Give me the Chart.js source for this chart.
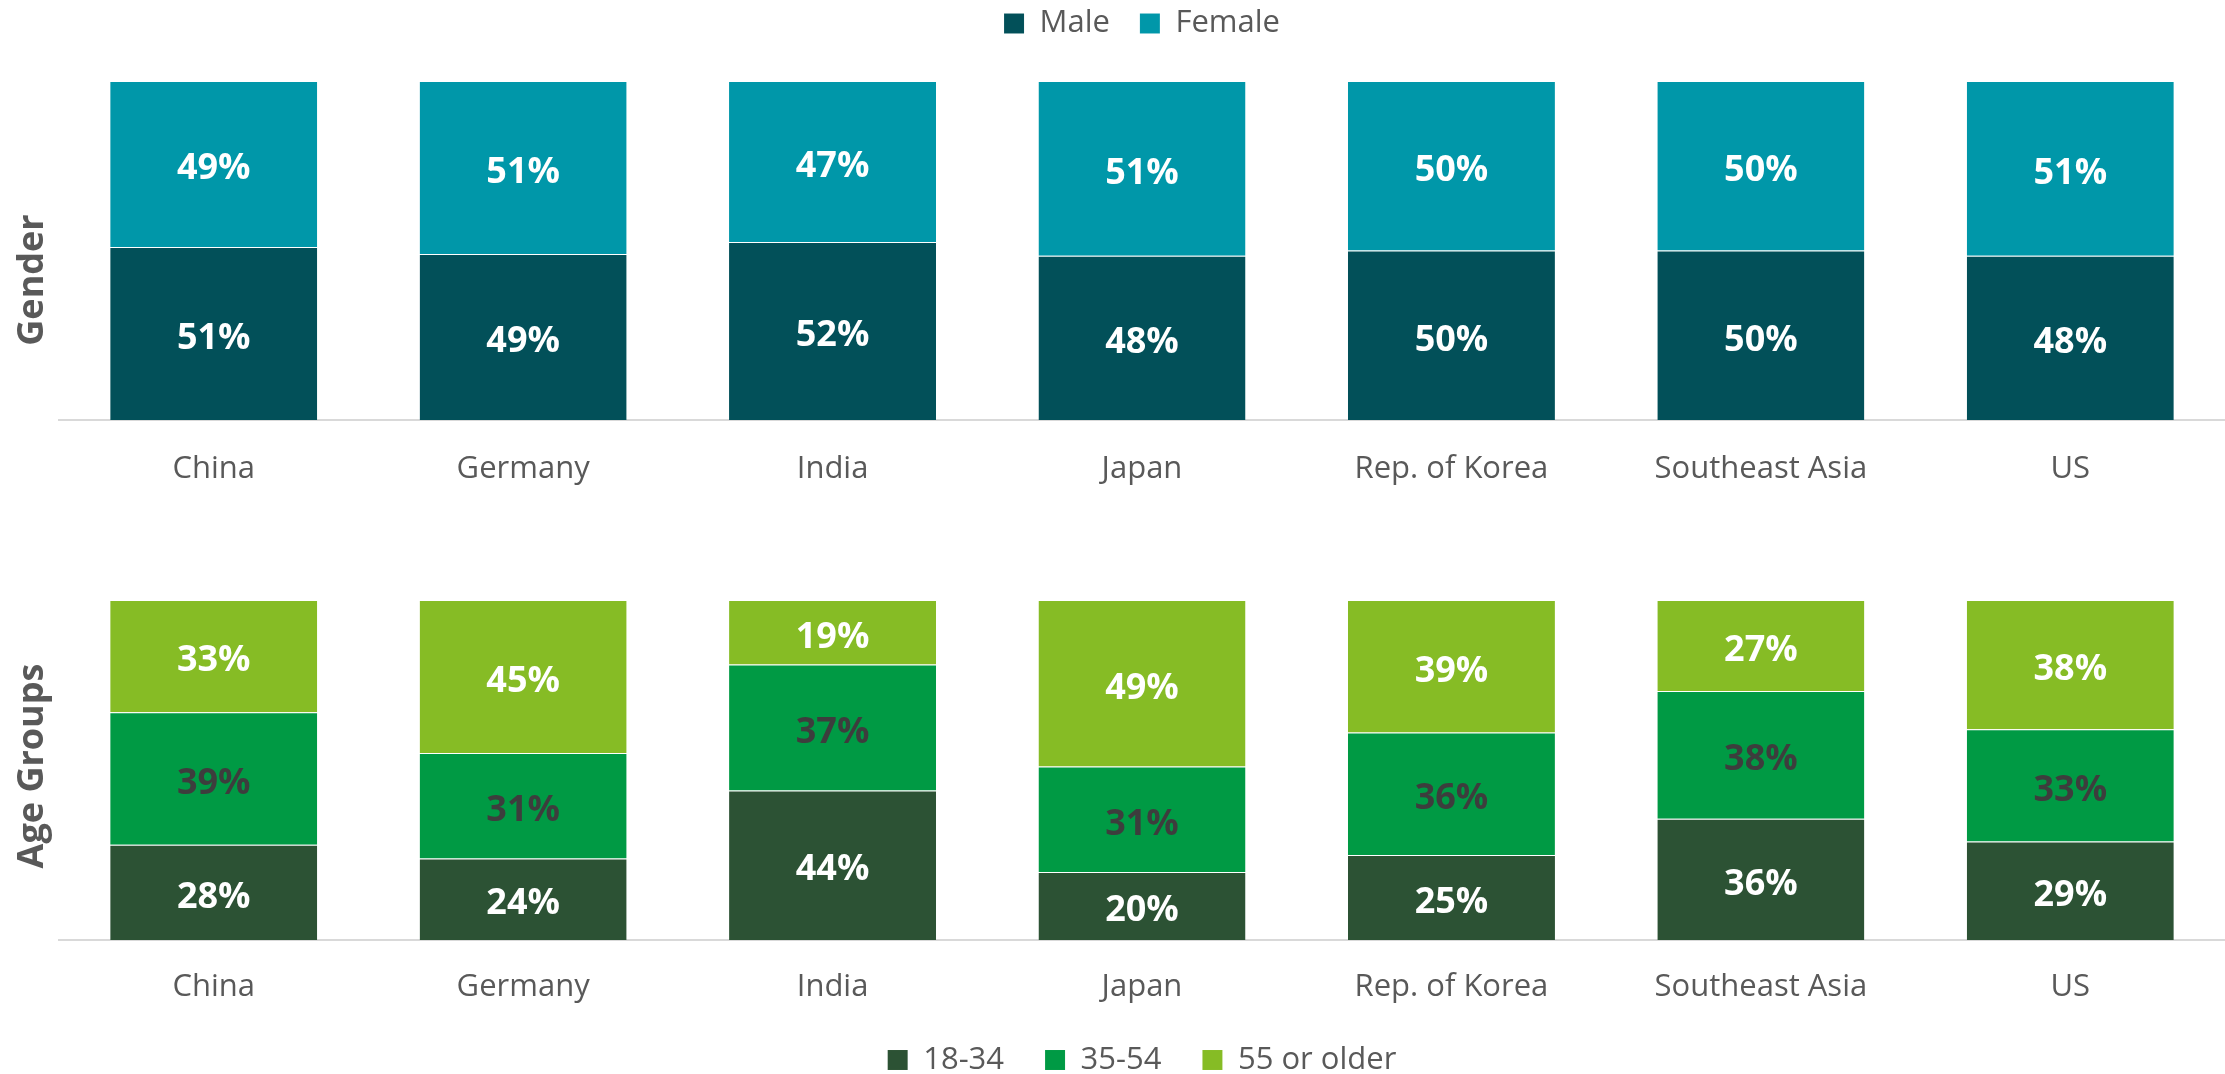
<!DOCTYPE html>
<html>
<head>
<meta charset="utf-8">
<script src="https://cdn.jsdelivr.net/npm/chart.js@4.4.1/dist/chart.umd.min.js"></script>
<style>
html,body{margin:0;padding:0;background:#ffffff;overflow:hidden}
#wrap{position:relative;width:2225px;height:1074px;background:#fff}
canvas{position:absolute;left:0}
#cA{top:0}
#cB{top:510px}
</style>
</head>
<body>
<div id="wrap">
<canvas id="cA" width="2225" height="510" style="width:2225px;height:510px"></canvas>
<canvas id="cB" width="2225" height="564" style="width:2225px;height:564px"></canvas>
</div>
<script>
// ---- data ----
const categories = ['China', 'Germany', 'India', 'Japan', 'Rep. of Korea', 'Southeast Asia', 'US'];
const male   = [51, 49, 52, 48, 50, 50, 48];
const female = [49, 51, 47, 51, 50, 50, 51];
const age18to34 = [28, 24, 44, 20, 25, 36, 29];
const age35to54 = [39, 31, 37, 31, 36, 38, 33];
const age55plus = [33, 45, 19, 49, 39, 27, 38];
const genderSeriesNames = ['Male', 'Female'];
const ageSeriesNames = ['18-34', '35-54', '55 or older'];
const panelTitles = ['Gender', 'Age Groups'];

// 100% stacked: each bar is scaled to its own total
function share(series, group) {
  return series.map((v, i) => {
    const total = group.reduce((s, g) => s + g[i], 0);
    return v / total * 100;
  });
}

const FONT = '"Open Sans", "Noto Sans", sans-serif';
const GREY = '#595959';

const valueLabels = {
  id: 'valueLabels',
  afterDatasetsDraw(chart) {
    const ctx = chart.ctx;
    ctx.save();
    ctx.font = 'bold 36px ' + FONT;
    ctx.textAlign = 'center';
    ctx.textBaseline = 'middle';
    chart.data.datasets.forEach((ds, di) => {
      const meta = chart.getDatasetMeta(di);
      ctx.fillStyle = ds.labelColor;
      meta.data.forEach((el, i) => {
        const y = (el.y + el.base) / 2 + 5;
        ctx.fillText(ds.raw[i] + '%', el.x, y);
      });
    });
    ctx.restore();
  }
};

const sideTitle = {
  id: 'sideTitle',
  afterDraw(chart, args, opts) {
    if (!opts || !opts.text) return;
    const ctx = chart.ctx;
    ctx.save();
    ctx.translate(opts.x, opts.y);
    ctx.rotate(-Math.PI / 2);
    ctx.font = 'bold 36px ' + FONT;
    ctx.fillStyle = GREY;
    ctx.textAlign = 'center';
    ctx.textBaseline = 'alphabetic';
    ctx.fillText(opts.text, 0, 0);
    ctx.restore();
  }
};

function baseOptions() {
  return {
    responsive: false,
    animation: false,
    devicePixelRatio: 1,
    events: [],
    datasets: { bar: { barPercentage: 0.669, categoryPercentage: 1.0 } },
    plugins: { tooltip: { enabled: false } }
  };
}

function build() {
  // ---- Gender chart ----
  const gGroup = [male, female];
  const optA = baseOptions();
  optA.layout = { padding: { left: 59, right: 0, top: -22, bottom: 0 } };
  optA.scales = {
    x: {
      stacked: true, position: 'bottom',
      grid: { display: false, drawTicks: false },
      border: { display: true, color: '#d9d9d9', width: 2 },
      ticks: { font: { family: FONT, size: 31 }, color: GREY, padding: 31 },
      afterFit: s => { s.height = 90; }
    },
    xTop: {
      type: 'category', position: 'top', display: true,
      grid: { display: false, drawTicks: false },
      border: { display: false },
      ticks: { display: false },
      afterFit: s => { s.height = 32; }
    },
    y: { stacked: true, display: false, min: 0, max: 100 }
  };
  optA.plugins.legend = {
    position: 'top',
    labels: { boxWidth: 20, boxHeight: 20, padding: 30, color: GREY, font: { family: FONT, size: 31 } }
  };
  optA.plugins.sideTitle = { text: panelTitles[0], x: 43, y: 280 };

  new Chart(document.getElementById('cA'), {
    type: 'bar',
    data: {
      labels: categories,
      datasets: [
        { label: genderSeriesNames[0], xAxisID: 'x', data: share(male, gGroup), raw: male,
          backgroundColor: '#025059', labelColor: '#ffffff',
          borderColor: 'rgba(255,255,255,0.18)', borderWidth: { top: 1, left: 0, right: 0, bottom: 0 }, borderSkipped: false },
        { label: genderSeriesNames[1], xAxisID: 'x', data: share(female, gGroup), raw: female,
          backgroundColor: '#0097A9', labelColor: '#ffffff',
          borderColor: 'rgba(255,255,255,0.18)', borderWidth: { top: 1, left: 0, right: 0, bottom: 0 }, borderSkipped: false }
      ]
    },
    options: optA,
    plugins: [valueLabels, sideTitle]
  });

  // ---- Age chart ----
  const aGroup = [age18to34, age35to54, age55plus];
  const optB = baseOptions();
  optB.layout = { padding: { left: 59, right: 0, top: 90, bottom: -11.5 } };
  optB.scales = {
    x: {
      stacked: true, position: 'bottom',
      grid: { display: false, drawTicks: false },
      border: { display: true, color: '#d9d9d9', width: 2 },
      ticks: { font: { family: FONT, size: 31 }, color: GREY, padding: 29 },
      afterFit: s => { s.height = 63.5; }
    },
    y: { stacked: true, display: false, min: 0, max: 100 }
  };
  optB.plugins.legend = {
    position: 'bottom',
    labels: { boxWidth: 20, boxHeight: 20, padding: 41, color: GREY, font: { family: FONT, size: 31 } }
  };
  optB.plugins.sideTitle = { text: panelTitles[1], x: 43, y: 256 };

  const ageColors = ['#2C5234', '#009A44', '#86BC25'];
  const ageLabelColors = ['#ffffff', '#3d3d3d', '#ffffff'];
  new Chart(document.getElementById('cB'), {
    type: 'bar',
    data: {
      labels: categories,
      datasets: aGroup.map((series, k) => ({
        label: ageSeriesNames[k], data: share(series, aGroup), raw: series,
        backgroundColor: ageColors[k], labelColor: ageLabelColors[k],
        borderColor: 'rgba(255,255,255,0.18)', borderWidth: { top: 1, left: 0, right: 0, bottom: 0 }, borderSkipped: false
      }))
    },
    options: optB,
    plugins: [valueLabels, sideTitle]
  });
}

if (document.fonts && document.fonts.load) {
  Promise.all([
    document.fonts.load('31px "Open Sans"'),
    document.fonts.load('bold 36px "Open Sans"')
  ]).then(build, build);
} else {
  build();
}
</script>
</body>
</html>
